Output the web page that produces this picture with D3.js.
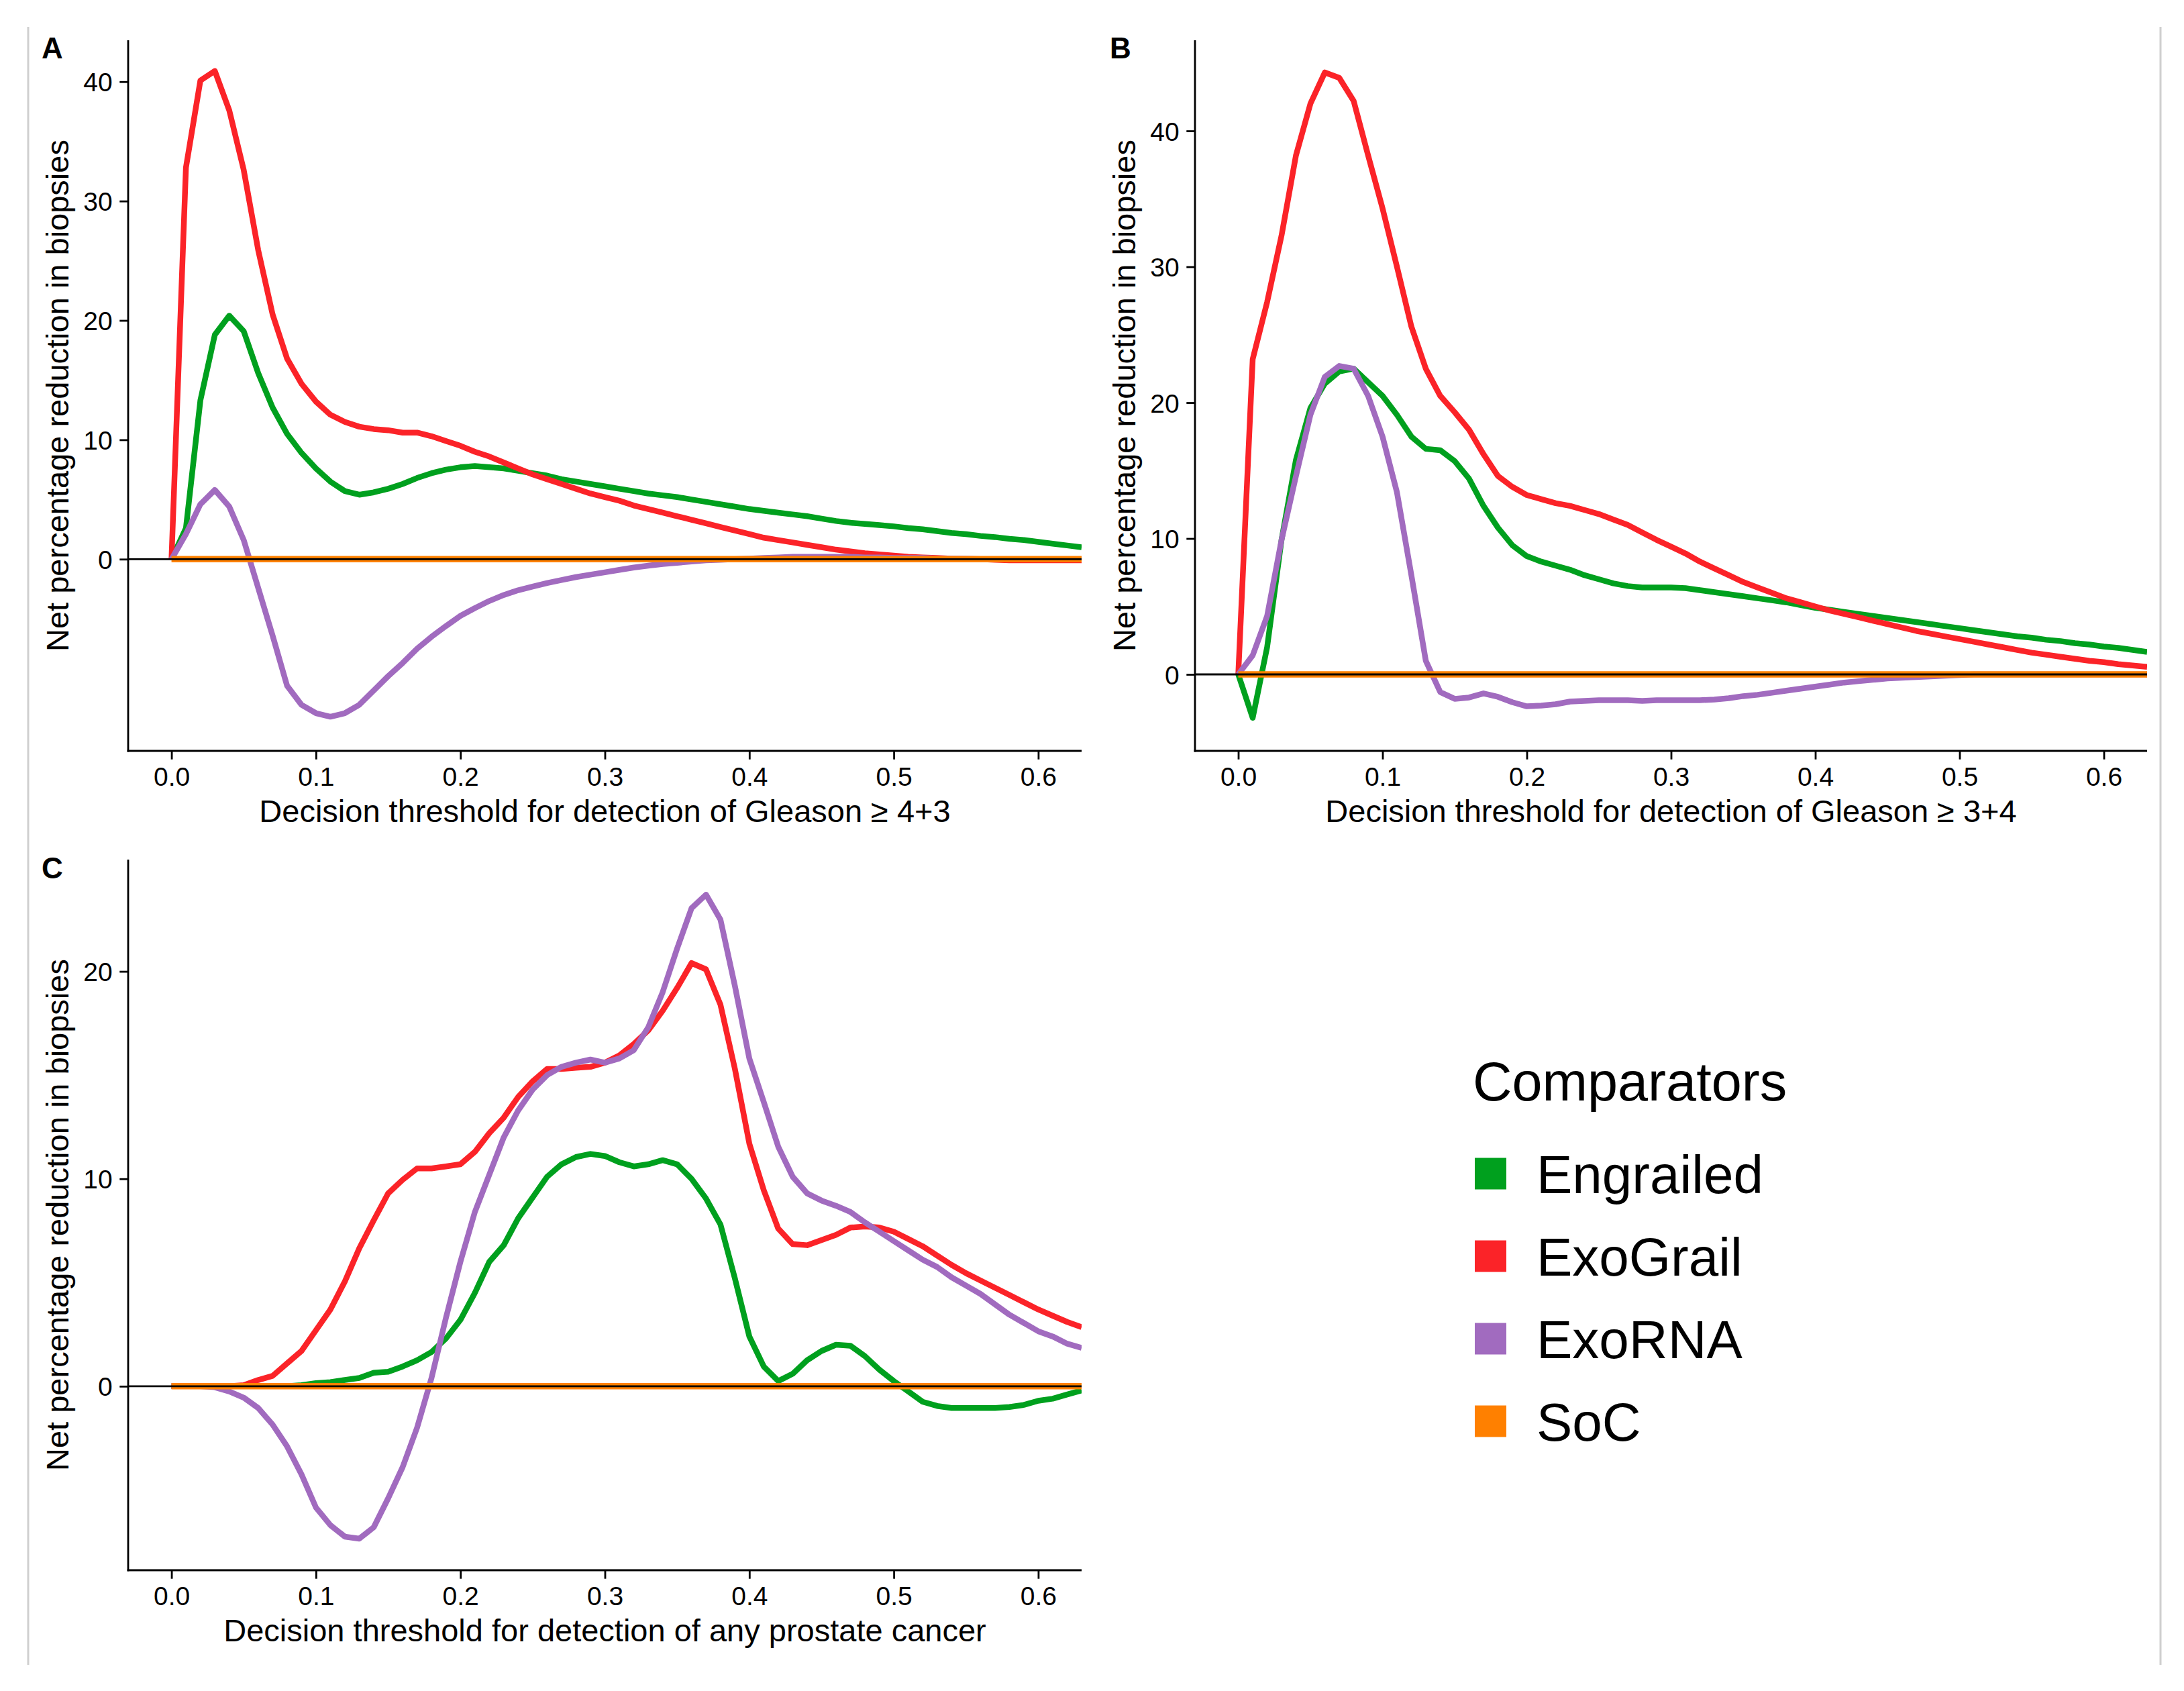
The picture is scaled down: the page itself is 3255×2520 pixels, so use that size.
<!DOCTYPE html>
<html>
<head>
<meta charset="utf-8">
<script src="https://cdn.jsdelivr.net/npm/d3@7"></script>
<style>
  html, body { margin: 0; padding: 0; background: #ffffff; }
  svg { display: block; }
  text { font-family: "Liberation Sans", Arial, Helvetica, sans-serif; fill: #000; }
</style>
</head>
<body>
<script>
// ---------------- DATA ----------------
const thresholds = [0.00,0.01,0.02,0.03,0.04,0.05,0.06,0.07,0.08,0.09,
  0.10,0.11,0.12,0.13,0.14,0.15,0.16,0.17,0.18,0.19,
  0.20,0.21,0.22,0.23,0.24,0.25,0.26,0.27,0.28,0.29,
  0.30,0.31,0.32,0.33,0.34,0.35,0.36,0.37,0.38,0.39,
  0.40,0.41,0.42,0.43,0.44,0.45,0.46,0.47,0.48,0.49,
  0.50,0.51,0.52,0.53,0.54,0.55,0.56,0.57,0.58,0.59,
  0.60,0.61,0.62,0.63];

const comparators = ["Engrailed", "ExoGrail", "ExoRNA", "SoC"];
const comparatorColors = ["#00A01E", "#FB2328", "#A16BBF", "#FF8000"];

// Panel A: Gleason >= 4+3
const engrailedA = [0,2.6,13.3,18.8,20.4,19.1,15.6,12.7,10.5,8.9,
  7.6,6.5,5.7,5.4,5.6,5.9,6.3,6.8,7.2,7.5,
  7.7,7.8,7.7,7.6,7.4,7.2,7.0,6.7,6.5,6.3,
  6.1,5.9,5.7,5.5,5.35,5.2,5.0,4.8,4.6,4.4,
  4.2,4.05,3.9,3.75,3.6,3.4,3.2,3.05,2.95,2.85,
  2.75,2.6,2.5,2.35,2.2,2.1,1.95,1.85,1.7,1.6,
  1.45,1.3,1.15,1.0];
const exograilA = [0,32.8,40.1,40.9,37.6,32.6,25.9,20.5,16.8,14.7,
  13.2,12.1,11.5,11.1,10.9,10.8,10.6,10.6,10.3,9.9,
  9.5,9.0,8.6,8.1,7.6,7.1,6.7,6.3,5.9,5.5,
  5.2,4.9,4.5,4.2,3.9,3.6,3.3,3.0,2.7,2.4,
  2.1,1.8,1.6,1.4,1.2,1.0,0.8,0.65,0.5,0.4,
  0.3,0.2,0.15,0.1,0.05,0,0,-0.05,-0.1,-0.1,
  -0.1,-0.1,-0.1,-0.1];
const exornaA = [0,2.1,4.6,5.8,4.4,1.6,-2.4,-6.4,-10.6,-12.2,
  -12.9,-13.2,-12.9,-12.2,-11.0,-9.8,-8.7,-7.5,-6.5,-5.6,
  -4.75,-4.1,-3.5,-3.0,-2.6,-2.3,-2.0,-1.75,-1.5,-1.3,
  -1.1,-0.9,-0.7,-0.55,-0.4,-0.3,-0.2,-0.1,-0.05,0,
  0.05,0.1,0.15,0.2,0.2,0.2,0.2,0.2,0.15,0.15,
  0.1,0.1,0.1,0.05,0.05,0.05,0,0,0,0,
  0,0,0,0];
const socA = [0,0,0,0,0,0,0,0,0,0, 0,0,0,0,0,0,0,0,0,0,
  0,0,0,0,0,0,0,0,0,0, 0,0,0,0,0,0,0,0,0,0,
  0,0,0,0,0,0,0,0,0,0, 0,0,0,0,0,0,0,0,0,0, 0,0,0,0];

// Panel B: Gleason >= 3+4
const engrailedB = [0,-3.2,2.0,9.9,15.8,19.6,21.4,22.3,22.5,21.5,
  20.5,19.1,17.5,16.6,16.5,15.7,14.4,12.4,10.8,9.5,
  8.7,8.3,8.0,7.7,7.3,7.0,6.7,6.5,6.4,6.4,
  6.4,6.35,6.2,6.05,5.9,5.75,5.6,5.45,5.3,5.1,
  4.9,4.75,4.6,4.45,4.3,4.15,4.0,3.85,3.7,3.55,
  3.4,3.25,3.1,2.95,2.8,2.7,2.55,2.45,2.3,2.2,
  2.05,1.95,1.8,1.65];
const exograilB = [0,23.2,27.4,32.3,38.2,42.0,44.3,43.9,42.2,38.2,
  34.3,30.0,25.6,22.5,20.5,19.3,18.0,16.2,14.6,13.8,
  13.2,12.9,12.6,12.4,12.1,11.8,11.4,11.0,10.45,9.9,
  9.4,8.9,8.3,7.8,7.3,6.8,6.4,6.0,5.6,5.3,
  5.0,4.7,4.45,4.2,3.95,3.7,3.45,3.2,3.0,2.8,
  2.6,2.4,2.2,2.0,1.8,1.6,1.45,1.3,1.15,1.0,
  0.9,0.75,0.65,0.55];
const exornaB = [0,1.4,4.3,9.9,14.6,19.1,21.9,22.7,22.5,20.5,
  17.5,13.4,7.3,1.0,-1.3,-1.8,-1.7,-1.4,-1.65,-2.05,
  -2.35,-2.3,-2.2,-2.0,-1.95,-1.9,-1.9,-1.9,-1.95,-1.9,
  -1.9,-1.9,-1.9,-1.85,-1.75,-1.6,-1.5,-1.35,-1.2,-1.05,
  -0.9,-0.75,-0.6,-0.5,-0.4,-0.3,-0.25,-0.2,-0.15,-0.1,
  -0.05,0,0,0,0,0,0,0,0,0,
  0,0,0,0];
const socB = [0,0,0,0,0,0,0,0,0,0, 0,0,0,0,0,0,0,0,0,0,
  0,0,0,0,0,0,0,0,0,0, 0,0,0,0,0,0,0,0,0,0,
  0,0,0,0,0,0,0,0,0,0, 0,0,0,0,0,0,0,0,0,0, 0,0,0,0];

// Panel C: any prostate cancer
const engrailedC = [0,0,0,0,0,0,0,0,0,0.05,
  0.15,0.2,0.3,0.4,0.65,0.7,0.95,1.25,1.65,2.3,
  3.2,4.5,6.0,6.8,8.1,9.1,10.1,10.7,11.05,11.2,
  11.1,10.8,10.6,10.7,10.9,10.7,10.0,9.05,7.8,5.2,
  2.4,0.95,0.25,0.6,1.25,1.7,2.0,1.95,1.45,0.8,
  0.25,-0.25,-0.75,-0.95,-1.05,-1.05,-1.05,-1.05,-1.0,-0.9,
  -0.7,-0.6,-0.4,-0.2];
const exograilC = [0,0,0,0,0,0.05,0.3,0.5,1.1,1.7,
  2.7,3.7,5.05,6.65,8.0,9.3,9.95,10.5,10.5,10.6,
  10.7,11.3,12.2,12.95,13.95,14.7,15.3,15.3,15.35,15.4,
  15.6,15.95,16.5,17.15,18.1,19.2,20.4,20.1,18.4,15.3,
  11.7,9.45,7.6,6.85,6.8,7.05,7.3,7.65,7.7,7.65,
  7.45,7.1,6.75,6.3,5.85,5.45,5.1,4.75,4.4,4.05,
  3.7,3.4,3.1,2.85];
const exornaC = [0,0,0,-0.05,-0.25,-0.55,-1.05,-1.85,-2.9,-4.25,
  -5.85,-6.7,-7.25,-7.35,-6.8,-5.4,-3.9,-2.0,0.4,3.3,
  6.0,8.4,10.2,12.0,13.3,14.3,15.0,15.4,15.6,15.75,
  15.6,15.8,16.2,17.3,19.0,21.1,23.05,23.7,22.5,19.3,
  15.8,13.7,11.55,10.1,9.3,8.95,8.7,8.4,7.9,7.45,
  7.0,6.55,6.1,5.75,5.25,4.85,4.45,3.95,3.45,3.05,
  2.65,2.4,2.05,1.85];
const socC = [0,0,0,0,0,0,0,0,0,0, 0,0,0,0,0,0,0,0,0,0,
  0,0,0,0,0,0,0,0,0,0, 0,0,0,0,0,0,0,0,0,0,
  0,0,0,0,0,0,0,0,0,0, 0,0,0,0,0,0,0,0,0,0, 0,0,0,0];

const xTicks = [0.0, 0.1, 0.2, 0.3, 0.4, 0.5, 0.6];
const yTicksA = [0, 10, 20, 30, 40];
const yTicksB = [0, 10, 20, 30, 40];
const yTicksC = [0, 10, 20];

const panelLetters = ["A", "B", "C"];
const xTitles = [
  "Decision threshold for detection of Gleason \u2265 4+3",
  "Decision threshold for detection of Gleason \u2265 3+4",
  "Decision threshold for detection of any prostate cancer"
];
const yTitle = "Net percentage reduction in biopsies";
const legendTitle = "Comparators";

// ---------------- LAYOUT ----------------
const W = 3255, H = 2520;
const FONT_TICK = 39, FONT_TITLE = 47, FONT_LETTER = 44;

const panels = [
  { letter: panelLetters[0], xTitle: xTitles[0], yTicks: yTicksA,
    series: [engrailedA, exograilA, exornaA, socA],
    left: 191, right: 1612, top: 60, bottom: 1119, yDomain: [-16.06, 43.47],
    letterX: 62, letterY: 87 },
  { letter: panelLetters[1], xTitle: xTitles[1], yTicks: yTicksB,
    series: [engrailedB, exograilB, exornaB, socB],
    left: 1781, right: 3200, top: 60, bottom: 1119, yDomain: [-5.63, 46.67],
    letterX: 1654, letterY: 87 },
  { letter: panelLetters[2], xTitle: xTitles[2], yTicks: yTicksC,
    series: [engrailedC, exograilC, exornaC, socC],
    left: 191, right: 1612, top: 1281, bottom: 2340, yDomain: [-8.87, 25.39],
    letterX: 62, letterY: 1309 }
];

const svg = d3.select("body").append("svg")
  .attr("width", W).attr("height", H)
  .attr("viewBox", `0 0 ${W} ${H}`);

svg.append("rect").attr("width", W).attr("height", H).attr("fill", "#fff");

// faint page edges
svg.append("line").attr("x1", 42).attr("x2", 42).attr("y1", 40).attr("y2", 2481)
  .attr("stroke", "#cfcfcf").attr("stroke-width", 3);
svg.append("line").attr("x1", 3220).attr("x2", 3220).attr("y1", 40).attr("y2", 2481)
  .attr("stroke", "#cfcfcf").attr("stroke-width", 3);

const AXIS_W = 2.8, TICK_LEN = 12.7, LINE_W = 8.5;

panels.forEach(p => {
  const x = d3.scaleLinear().domain([-0.03, 0.63]).range([p.left, p.right]);
  const y = d3.scaleLinear().domain(p.yDomain).range([p.bottom, p.top]);
  const g = svg.append("g");

  const clipId = "clip" + p.letter;
  svg.append("clipPath").attr("id", clipId).append("rect")
    .attr("x", p.left).attr("y", p.top)
    .attr("width", p.right - p.left).attr("height", p.bottom - p.top);

  const line = d3.line()
    .x((d, i) => x(thresholds[i]))
    .y(d => y(d));

  const lg = g.append("g").attr("clip-path", `url(#${clipId})`);
  p.series.forEach((s, k) => {
    lg.append("path")
      .datum(s)
      .attr("d", line)
      .attr("fill", "none")
      .attr("stroke", comparatorColors[k])
      .attr("stroke-width", k === 3 ? 9.5 : LINE_W)
      .attr("stroke-linejoin", "round")
      .attr("stroke-linecap", "butt");
  });

  // zero reference line
  g.append("line")
    .attr("x1", p.left).attr("x2", p.right)
    .attr("y1", y(0)).attr("y2", y(0))
    .attr("stroke", "#000").attr("stroke-width", 2.8);

  // x axis
  const xAxis = d3.axisBottom(x).tickValues(xTicks)
    .tickFormat(d3.format(".1f")).tickSize(TICK_LEN).tickSizeOuter(0);
  const gx = g.append("g").attr("transform", `translate(0,${p.bottom})`).call(xAxis);
  gx.select(".domain").attr("stroke-width", AXIS_W).attr("stroke", "#000")
    .attr("d", `M${p.left - AXIS_W / 2},0H${p.right}`);
  gx.selectAll(".tick line").attr("stroke-width", AXIS_W).attr("stroke", "#000");
  gx.selectAll(".tick text")
    .attr("y", 51.7).attr("dy", null)
    .style("font-size", FONT_TICK + "px")
    .style("font-family", '"Liberation Sans", Arial, Helvetica, sans-serif')
    .attr("fill", "#000");

  // y axis
  const yAxis = d3.axisLeft(y).tickValues(p.yTicks)
    .tickFormat(d3.format("d")).tickSize(TICK_LEN).tickSizeOuter(0);
  const gy = g.append("g").attr("transform", `translate(${p.left},0)`).call(yAxis);
  gy.select(".domain").attr("stroke-width", AXIS_W).attr("stroke", "#000")
    .attr("d", `M0,${p.top}V${p.bottom + AXIS_W / 2}`);
  gy.selectAll(".tick line").attr("stroke-width", AXIS_W).attr("stroke", "#000");
  gy.selectAll(".tick text")
    .attr("x", -23.3).attr("dy", "0.36em")
    .style("font-size", FONT_TICK + "px")
    .style("font-family", '"Liberation Sans", Arial, Helvetica, sans-serif')
    .attr("fill", "#000");

  // titles
  g.append("text")
    .attr("x", (p.left + p.right) / 2).attr("y", p.bottom + 105.5)
    .attr("text-anchor", "middle")
    .style("font-size", FONT_TITLE + "px")
    .text(p.xTitle);

  g.append("text")
    .attr("transform", `translate(${p.left - 89},${(p.top + p.bottom) / 2}) rotate(-90)`)
    .attr("text-anchor", "middle")
    .style("font-size", FONT_TITLE + "px")
    .text(yTitle);

  g.append("text")
    .attr("x", p.letterX).attr("y", p.letterY)
    .style("font-size", FONT_LETTER + "px")
    .style("font-weight", "bold")
    .text(p.letter);
});

// ---------------- LEGEND ----------------
const leg = svg.append("g");
leg.append("text").attr("x", 2195).attr("y", 1640)
  .style("font-size", "81px").text(legendTitle);

const legY = d3.scalePoint().domain(comparators).range([1749, 2118]);
comparators.forEach((c, i) => {
  const cy = legY(c);
  leg.append("rect")
    .attr("x", 2198).attr("y", cy - 23.5)
    .attr("width", 47).attr("height", 47)
    .attr("fill", comparatorColors[i]);
  leg.append("text")
    .attr("x", 2290).attr("y", cy + 28.6)
    .style("font-size", "80px")
    .text(c);
});
</script>
</body>
</html>
